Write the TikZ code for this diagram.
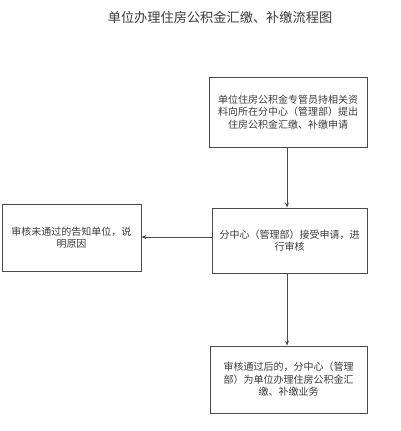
\documentclass[tikz,border=0pt]{standalone}
\usepackage{fontspec}
\setmainfont{Noto Sans CJK SC}
\usetikzlibrary{arrows.meta}
\definecolor{linegray}{HTML}{4A4A4A}
\definecolor{textgray}{HTML}{3C3C3C}
\tikzset{
  box/.style={draw=linegray, line width=0.8pt, rectangle, align=center, inner sep=0pt,
    text=textgray, font=\fontsize{10}{12.6}\selectfont},
  flow/.style={draw=linegray, line width=0.8pt, -{Stealth[length=5pt,width=4pt]}}
}
\begin{document}
\begin{tikzpicture}[x=1pt,y=-1pt]
\useasboundingbox (0,0) rectangle (400,431);
\node[text=textgray, font=\fontsize{13.2}{16}\selectfont] (title) at (220,17) {单位办理住房公积金汇缴、补缴流程图};
\node[box, minimum width=158pt, minimum height=70pt] (b1) at (288,112)
  {单位住房公积金专管员持相关资\\料向所在分中心（管理部）提出\\住房公积金汇缴、补缴申请};
\node[box, minimum width=155pt, minimum height=65pt] (b2) at (289.5,240.5)
  {分中心（管理部）接受申请，进\\行审核};
\node[box, minimum width=139pt, minimum height=67pt] (b3) at (71.5,237.5)
  {审核未通过的告知单位，说\\明原因};
\node[box, minimum width=157pt, minimum height=67pt] (b4) at (288.5,379.5)
  {审核通过后的，分中心（管理\\部）为单位办理住房公积金汇\\缴、补缴业务};
\coordinate (c1) at (287,0);
\coordinate (c2) at (0,237);
\draw[flow] (c1 |- b1.south) -- (c1 |- b2.north);
\draw[flow] (c1 |- b2.south) -- (c1 |- b4.north);
\draw[flow] (b2.west |- c2) -- (b3.east |- c2);
\end{tikzpicture}
\end{document}
